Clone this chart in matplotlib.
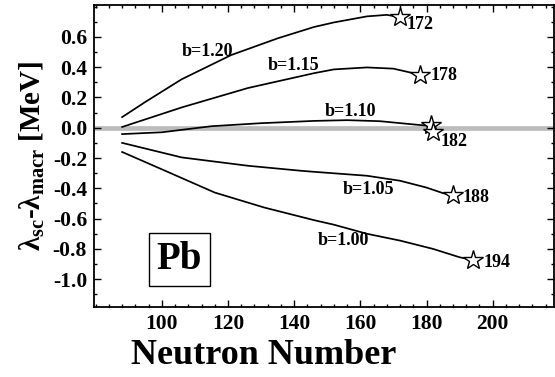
import matplotlib
matplotlib.use('Agg')
import matplotlib.pyplot as plt
from matplotlib.ticker import MultipleLocator, FormatStrFormatter

plt.rcParams['font.family'] = ['Liberation Serif', 'DejaVu Serif']
plt.rcParams['font.weight'] = 'bold'
plt.rcParams['axes.unicode_minus'] = False
plt.rcParams['mathtext.fontset'] = 'custom'
plt.rcParams['mathtext.rm'] = 'Liberation Serif:bold'
plt.rcParams['mathtext.bf'] = 'Liberation Serif:bold'
plt.rcParams['mathtext.it'] = 'Liberation Serif:bold:italic'

# lambda_sc - lambda_macr vs neutron number, one curve per b
n_120 = [88, 95, 106, 121, 135, 146, 152, 162, 168, 172]
v_120 = [0.07, 0.17, 0.32, 0.48, 0.59, 0.665, 0.695, 0.735, 0.745, 0.73]

n_115 = [88, 106, 126, 146, 152, 162, 170, 175, 178]
v_115 = [0.005, 0.134, 0.262, 0.36, 0.385, 0.398, 0.39, 0.365, 0.35]

n_110 = [88, 100, 115, 130, 146, 156, 166, 176, 182]
v_110 = [-0.042, -0.03, 0.01, 0.03, 0.045, 0.05, 0.043, 0.022, 0.01]

n_105 = [88, 106, 126, 142, 146, 162, 172, 180, 185, 188]
v_105 = [-0.10, -0.196, -0.251, -0.284, -0.291, -0.317, -0.35, -0.395, -0.432, -0.445]

n_100 = [88, 101, 116, 131, 146, 152, 162, 172, 182, 190, 194]
v_100 = [-0.16, -0.284, -0.428, -0.527, -0.61, -0.64, -0.70, -0.745, -0.80, -0.855, -0.873]

curves = [(n_120, v_120), (n_115, v_115), (n_110, v_110), (n_105, v_105), (n_100, v_100)]
b_labels = ['b=1.20', 'b=1.15', 'b=1.10', 'b=1.05', 'b=1.00']
b_label_pos = [(113.8, 0.506), (139.7, 0.414), (156.9, 0.104), (162.6, -0.411), (154.8, -0.747)]

# end points (stars) and their neutron numbers
star_n = [172, 178, 181.5, 182, 188, 194]
star_v = [0.73, 0.35, 0.02, -0.025, -0.445, -0.873]
end_labels = ['172', '178', '182', '188', '194']
end_label_pos = [(174.0, 0.684), (181.1, 0.348), (184.1, -0.088), (191.0, -0.46), (197.1, -0.889)]

fig = plt.figure(figsize=(5.55, 3.77), dpi=100)
ax = fig.add_axes([0.1694, 0.185, 0.8286, 0.8017])

ax.axhline(0.0, color='#bcbcbc', lw=3.4, zorder=1)

for n, v in curves:
    ax.plot(n, v, color='black', lw=1.25, zorder=2)

ax.plot(star_n, star_v, ls='none', marker='*', ms=15, mfc='white', mec='black', mew=1.0, zorder=3)

for txt, (x, y) in zip(b_labels, b_label_pos):
    ax.text(x, y, txt, fontsize=13, fontweight='bold', ha='center', va='center')
for txt, (x, y) in zip(end_labels, end_label_pos):
    ax.text(x, y, txt, fontsize=13, fontweight='bold', ha='left', va='center')

ax.text(0.186, 0.158, 'Pb', transform=ax.transAxes, fontsize=28, fontweight='bold',
        ha='center', va='center',
        bbox=dict(boxstyle='square,pad=0.2', fc='white', ec='black', lw=1.0))

ax.set_xlim(79.5, 218.5)
ax.set_ylim(-1.185, 0.81)
ax.set_xticks([100, 120, 140, 160, 180, 200])
ax.xaxis.set_minor_locator(MultipleLocator(4))
ax.set_yticks([-1.0, -0.8, -0.6, -0.4, -0.2, 0.0, 0.2, 0.4, 0.6])
ax.yaxis.set_minor_locator(MultipleLocator(0.1))
ax.yaxis.set_major_formatter(FormatStrFormatter('%.1f'))

ax.tick_params(which='both', direction='in', top=True, right=True, width=1.0)
ax.tick_params(which='major', length=5, labelsize=15.5, pad=5)
ax.tick_params(which='minor', length=2.5)
for lab in ax.get_xticklabels() + ax.get_yticklabels():
    lab.set_fontweight('bold')
for s in ax.spines.values():
    s.set_linewidth(1.3)

ax.set_xlabel('Neutron Number', fontsize=26, fontweight='bold')
ax.xaxis.set_label_coords(0.37, -0.105)
ax.set_ylabel(r'$\mathbf{\lambda_{sc}}$-$\mathbf{\lambda_{macr}}$ [MeV]', fontsize=21,
              fontweight='bold', labelpad=4)

fig.savefig('out.png', dpi=100)
